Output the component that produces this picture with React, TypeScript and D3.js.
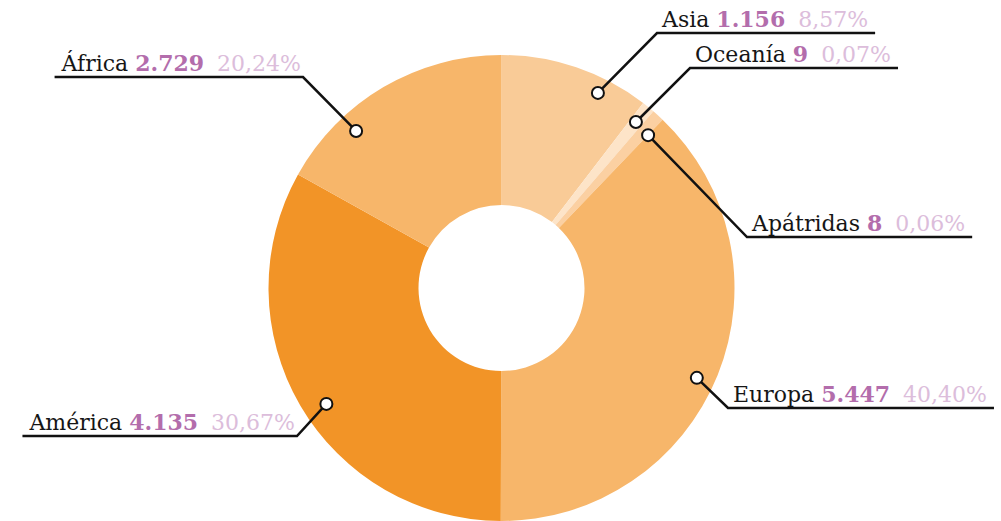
import React, { useEffect, useRef } from 'react';
import * as d3 from 'd3';

// ---- data ----
const categories = ['Asia', 'Oceanía', 'Apátridas', 'Europa', 'América', 'África'];
const values = [1156, 9, 8, 5447, 4135, 2729];
// share of the ring each slice occupies as drawn in the picture (%)
const drawnShares = [10.4, 0.9, 0.85, 37.9, 33.05, 16.9];
const sliceColors = ['#f9cb97', '#fde4c8', '#fbd0a2', '#f7b66a', '#f29427', '#f7b66a'];

// ---- layout of callouts ----
const dotAngles = [26.3, 39, 43.8, 114.7, 236.5, 317.2];
const dotRadii = [217.6, 213.6, 211.8, 215, 210, 214];
const bendX = [657, 690, 747, 728, 297, 303];
const bendY = [33, 68, 237, 408, 436, 77];
const sides = ['r', 'r', 'r', 'r', 'l', 'l'];

const W = 1001;
const H = 521;
const CX = 501.5;
const CY = 288;
const R_OUT = 233;
const R_IN = 83;

const locale = d3.formatLocale({ decimal: ',', thousands: '.', grouping: [3], currency: ['', '€'] });
const fmtNum = locale.format(',');
const fmtPct = locale.format('.2f');

export default function App() {
  const ref = useRef<SVGSVGElement>(null);

  useEffect(() => {
    const svg = d3.select(ref.current);
    svg.selectAll('*').remove();
    const total = d3.sum(values);

    const pie = d3.pie<number>().sort(null).value((d) => d);
    const arcs = pie(drawnShares);
    const arc = d3.arc<d3.PieArcDatum<number>>().innerRadius(R_IN).outerRadius(R_OUT);

    const g = svg.append('g').attr('transform', `translate(${CX},${CY})`);
    g.selectAll('path')
      .data(arcs)
      .join('path')
      .attr('d', arc as any)
      .attr('fill', (_d, i) => sliceColors[i]);

    const font = "'DejaVu Serif', serif";
    const fs = 22;
    const gap = 13;

    categories.forEach((cat, i) => {
      const a = (dotAngles[i] * Math.PI) / 180;
      const dx = CX + dotRadii[i] * Math.sin(a);
      const dy = CY - dotRadii[i] * Math.cos(a);
      const bx = bendX[i];
      const by = bendY[i];

      const text = svg
        .append('text')
        .attr('y', by - 6)
        .attr('font-family', font)
        .attr('font-size', fs)
        .attr('fill', '#161616');
      text.append('tspan').text(cat + ' ');
      text
        .append('tspan')
        .attr('font-weight', 'bold')
        .attr('fill', '#b36dac')
        .text(fmtNum(values[i]));
      text
        .append('tspan')
        .attr('dx', gap)
        .attr('fill', '#dcbddb')
        .text(fmtPct((values[i] / total) * 100) + '%');

      const tw = (text.node() as SVGTextElement).getComputedTextLength() + gap;
      let lineEnd: number;
      if (sides[i] === 'r') {
        text.attr('x', bx + 5);
        lineEnd = Math.min(bx + 5 + tw + 7, W + 5);
      } else {
        text.attr('x', bx - 2 - tw);
        lineEnd = bx - 2 - tw - 7;
      }

      svg
        .append('polyline')
        .attr('points', `${dx},${dy} ${bx},${by} ${lineEnd},${by}`)
        .attr('fill', 'none')
        .attr('stroke', '#111')
        .attr('stroke-width', 2.5);

      svg
        .append('circle')
        .attr('cx', dx)
        .attr('cy', dy)
        .attr('r', 6)
        .attr('fill', '#fff')
        .attr('stroke', '#111')
        .attr('stroke-width', 2);
    });
  }, []);

  return (
    <svg
      ref={ref}
      width={W}
      height={H}
      style={{ position: 'absolute', left: 0, top: 0, background: '#fff' }}
    />
  );
}
